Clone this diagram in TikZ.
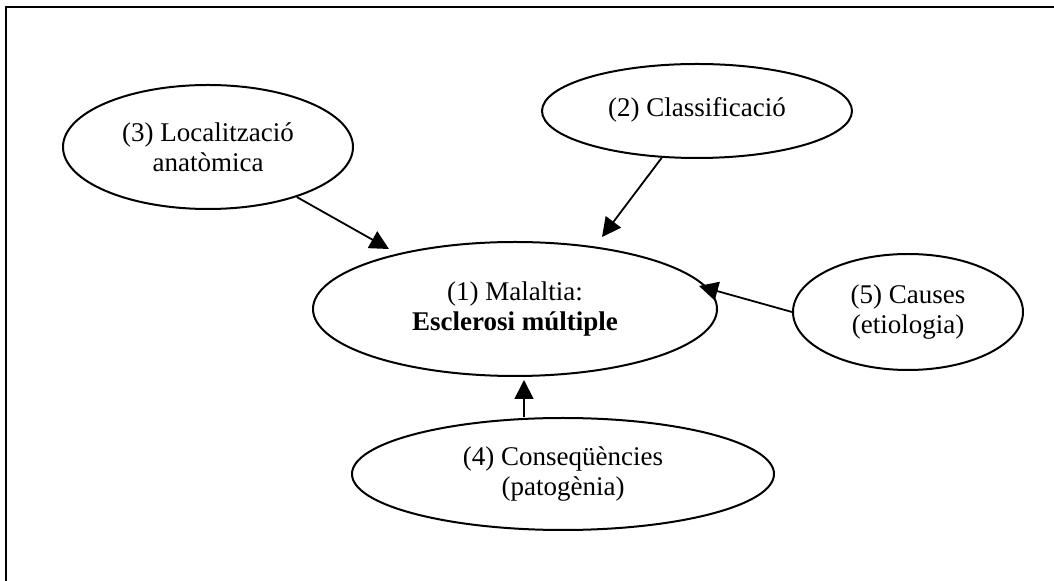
\documentclass[tikz,border=0pt]{standalone}
\usepackage{fontspec}
\setmainfont{Liberation Serif}
\usetikzlibrary{shapes.geometric,arrows.meta}

\begin{document}
\begin{tikzpicture}[x=0.5pt,y=-0.5pt,
        bubble/.style={draw, ellipse, line width=1pt, inner sep=0pt, align=center,
            font=\fontsize{13.5pt}{15pt}\selectfont},
        link/.style={line width=0.9pt, -{Triangle[length=9.5pt,width=9.5pt]}}]
        \useasboundingbox (0,0) rectangle (1054,581);
        \draw[line width=1.2pt] (6,581) -- (6,7) -- (1054,7);

        \node[bubble, minimum width=202pt, minimum height=67pt] (malaltia) at (515,309) {(1) Malaltia:\\\textbf{Esclerosi múltiple}};
        \node[bubble, minimum width=155pt, minimum height=47pt] (classif) at (697,111) {\raisebox{4pt}{(2) Classificació}};
        \node[bubble, minimum width=145pt, minimum height=62pt] (local) at (208,147) {(3) Localització\\anatòmica};
        \node[bubble, minimum width=211pt, minimum height=56pt] (conseq) at (563,474) {(4) Conseqüències\\(patogènia)};
        \node[bubble, minimum width=115pt, minimum height=58pt] (causes) at (908,312) {(5) Causes\\(etiologia)};

        \coordinate (t3) at (389,249);
        \coordinate (t2) at (602,237);
        \coordinate (t5) at (699,286);
        \coordinate (t4) at (524,380);

        \draw[link] (local) -- (t3);
        \draw[link] (classif) -- (t2);
        \draw[link] (causes.west) -- (t5);
        \draw[link] (conseq.north -| t4) -- (t4);
    \end{tikzpicture}
\end{document}
